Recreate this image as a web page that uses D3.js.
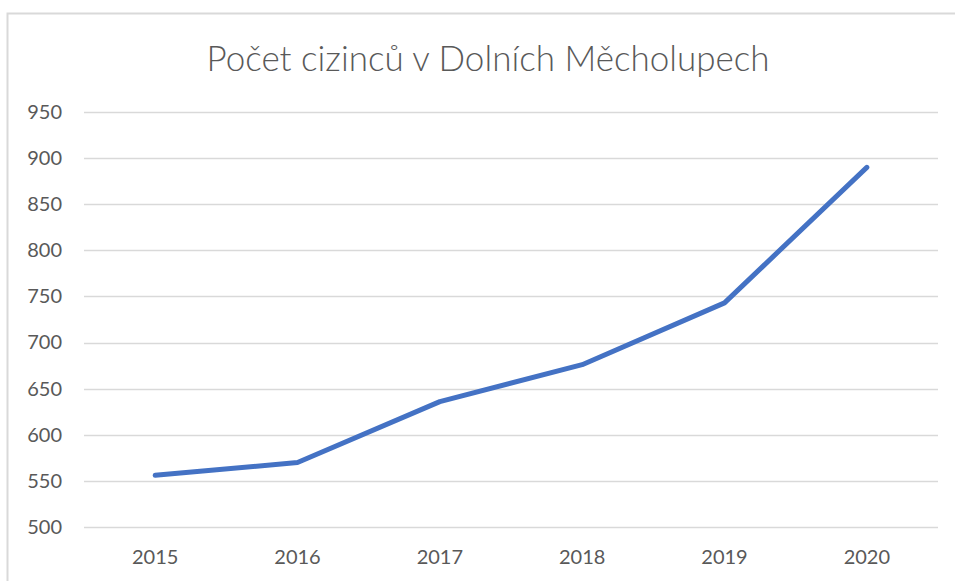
<!DOCTYPE html>
<html>
<head>
<meta charset="utf-8">
<script src="https://cdn.jsdelivr.net/npm/d3@7"></script>
<style>
  body { margin: 0; background: #fff; }
  svg { display: block; font-family: Lato, "Open Sans", sans-serif; }
</style>
</head>
<body>
<svg id="chart" width="955" height="581"></svg>
<script>
// Data
const years = ["2015", "2016", "2017", "2018", "2019", "2020"];
const counts = [556, 570, 636, 676, 743, 890];
const yTicks = [500, 550, 600, 650, 700, 750, 800, 850, 900, 950];
const title = "Počet cizinců v Dolních Měcholupech";

const svg = d3.select("#chart");
const margin = { top: 112, right: 17, bottom: 54, left: 84 };
const width = 955 - margin.left - margin.right;
const height = 581 - margin.top - margin.bottom;

// Chart frame (right and bottom are cut off in the original)
svg.append("path")
    .attr("d", "M7.5,581 V13.5 H955")
    .attr("fill", "none")
    .attr("stroke", "#d9d9d9")
    .attr("stroke-width", 2);

svg.append("text")
    .attr("x", 488)
    .attr("y", 71)
    .attr("text-anchor", "middle")
    .attr("font-size", 35)
    .attr("font-weight", 300)
    .attr("fill", "#595959")
    .text(title);

const g = svg.append("g")
    .attr("transform", `translate(${margin.left},${margin.top})`);

const x = d3.scaleBand().domain(years).range([0, width]);
const y = d3.scaleLinear().domain([500, 950]).range([height, 0]);

// Gridlines
g.selectAll("line.grid")
    .data(yTicks)
    .enter()
    .append("line")
    .attr("class", "grid")
    .attr("x1", 0)
    .attr("x2", width)
    .attr("y1", d => Math.round(y(d)) + 0.5)
    .attr("y2", d => Math.round(y(d)) + 0.5)
    .attr("stroke", "#d9d9d9")
    .attr("stroke-width", 1.5);

// Y axis labels
const yAxis = g.append("g")
    .call(d3.axisLeft(y).tickValues(yTicks).tickSize(0).tickPadding(22));
yAxis.select(".domain").remove();
yAxis.selectAll("text")
    .attr("font-size", 20)
    .attr("fill", "#595959")
    .attr("font-family", "Lato, 'Open Sans', sans-serif");

// X axis labels
const xAxis = g.append("g")
    .attr("transform", `translate(0,${height})`)
    .call(d3.axisBottom(x).tickSize(0).tickPadding(23));
xAxis.select(".domain").remove();
xAxis.selectAll("text")
    .attr("font-size", 20)
    .attr("fill", "#595959")
    .attr("font-family", "Lato, 'Open Sans', sans-serif");

// Line
const line = d3.line()
    .x((d, i) => x(years[i]) + x.bandwidth() / 2)
    .y(d => y(d));

g.append("path")
    .datum(counts)
    .attr("d", line)
    .attr("fill", "none")
    .attr("stroke", "#4472c4")
    .attr("stroke-width", 5)
    .attr("stroke-linecap", "round")
    .attr("stroke-linejoin", "round");
</script>
</body>
</html>
